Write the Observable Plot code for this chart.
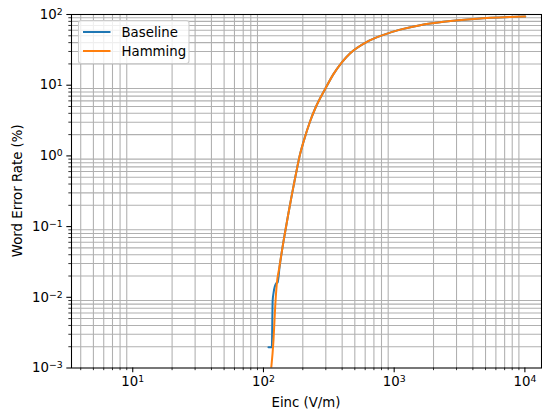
<!DOCTYPE html>
<html>
<head>
<meta charset="utf-8">
<script src="https://cdn.jsdelivr.net/npm/d3@7"></script>
<script src="https://cdn.jsdelivr.net/npm/@observablehq/plot@0.6"></script>
<style>
  html, body { margin: 0; padding: 0; background: white; }
  #chart { width: 542px; height: 416px; }
</style>
</head>
<body>
<div id="chart"></div>
<script>
// ---- data ----
const baselineX = [109.2, 115.9, 117.6, 119.7, 125.1, 128.4, 133.0, 138.3, 144.0, 155.4, 165.0, 174.8, 190.9, 202.3, 227.2, 248.7, 296.6, 343.2, 398, 460.8, 618.1, 828.1, 1111, 1581, 2384, 4293, 7717, 10053];
const baselineY = [0.00197, 0.00197, 0.0090, 0.0118, 0.0157, 0.0162, 0.0273, 0.0447, 0.0702, 0.1557, 0.2836, 0.49, 1.071, 1.573, 3.067, 4.68, 8.84, 14.35, 21.08, 28.35, 41.1, 51.6, 61.1, 70.6, 78.9, 87.2, 91.9, 93.4];
const hammingX = [114.5, 119.3, 122.9, 126.6, 131.9, 138.3, 144.0, 155.4, 165.0, 174.8, 190.9, 202.3, 227.2, 248.7, 296.6, 343.2, 398, 460.8, 618.1, 828.1, 1111, 1581, 2384, 4293, 7717, 10053];
const hammingY = [0.00097, 0.00245, 0.00724, 0.01567, 0.0257, 0.0447, 0.0702, 0.1557, 0.2836, 0.49, 1.071, 1.573, 3.067, 4.68, 8.84, 14.35, 21.08, 28.35, 41.1, 51.6, 61.1, 70.6, 78.9, 87.2, 91.9, 93.4];

const seriesNames = ["Baseline", "Hamming"];
const seriesColors = ["#1f77b4", "#ff7f0e"];

const xMajor = [10, 100, 1000, 10000];
const xMajorLabels = ["10^1", "10^2", "10^3", "10^4"];
const xMinor = [4, 5, 6, 7, 8, 9, 20, 30, 40, 50, 60, 70, 80, 90, 200, 300, 400, 500, 600, 700, 800, 900, 2000, 3000, 4000, 5000, 6000, 7000, 8000, 9000];
const yMajor = [0.001, 0.01, 0.1, 1, 10, 100];
const yMajorLabels = ["10^\u22123", "10^\u22122", "10^\u22121", "10^0", "10^1", "10^2"];
const yMinor = [0.002, 0.003, 0.004, 0.005, 0.006, 0.007, 0.008, 0.009,
                0.02, 0.03, 0.04, 0.05, 0.06, 0.07, 0.08, 0.09,
                0.2, 0.3, 0.4, 0.5, 0.6, 0.7, 0.8, 0.9,
                2, 3, 4, 5, 6, 7, 8, 9,
                20, 30, 40, 50, 60, 70, 80, 90];

const xLabel = "Einc (V/m)";
const yLabel = "Word Error Rate (%)";

// ---- build tables ----
const baseline = baselineX.map((x, i) => ({x, y: baselineY[i]}));
const hamming = hammingX.map((x, i) => ({x, y: hammingY[i]}));

const W = 542, H = 416;
const mL = 71, mR = 1, mT = 14, mB = 48.5;
const FS = 13.3;

const svg = Plot.plot({
  width: W, height: H,
  marginLeft: mL, marginRight: mR, marginTop: mT, marginBottom: mB,
  style: {fontFamily: "DejaVu Sans", fontSize: FS + "px", color: "black", background: "white", overflow: "visible"},
  x: {type: "log", domain: [3.4, 13400]},
  y: {type: "log", domain: [1e-3, 1e2]},
  marks: [
    Plot.gridX(xMinor, {stroke: "#b0b0b0", strokeOpacity: 1, strokeWidth: 1.07}),
    Plot.gridY(yMinor, {stroke: "#b0b0b0", strokeOpacity: 1, strokeWidth: 1.07}),
    Plot.line(baseline, {x: "x", y: "y", stroke: seriesColors[0], strokeWidth: 2, curve: "monotone-x", clip: true}),
    Plot.line(hamming, {x: "x", y: "y", stroke: seriesColors[1], strokeWidth: 2, curve: "monotone-x", clip: true}),
    Plot.frame({stroke: "black", strokeWidth: 1.07}),
    Plot.axisX({ticks: xMinor, tickSize: 2.67, tickFormat: () => "", label: null, strokeWidth: 0.8}),
    Plot.axisY({ticks: yMinor, tickSize: 2.67, tickFormat: () => "", label: null, strokeWidth: 0.8}),
    Plot.axisX({ticks: xMajor, tickSize: 4.67, tickPadding: 4.2, label: null, strokeWidth: 1.07,
      tickFormat: d => xMajorLabels[xMajor.indexOf(d)]}),
    Plot.axisY({ticks: yMajor, tickSize: 4.67, tickPadding: 4.2, label: null, strokeWidth: 1.07,
      tickFormat: d => yMajorLabels[yMajor.indexOf(d)]})
  ]
});

const ns = "http://www.w3.org/2000/svg";
// superscript exponents in tick labels
svg.querySelectorAll("text").forEach(t => {
  const m = /^10\^(.+)$/.exec(t.textContent);
  if (m) {
    t.textContent = "10";
    const ts = document.createElementNS(ns, "tspan");
    ts.setAttribute("dy", "-0.42em");
    ts.setAttribute("font-size", "0.7em");
    ts.textContent = m[1];
    t.appendChild(ts);
  }
});

const s = d3.select(svg);
// axis labels
s.append("text").attr("x", (mL + W - mR) / 2).attr("y", 407)
  .attr("text-anchor", "middle").attr("font-size", FS).attr("fill", "black").text(xLabel);
s.append("text").attr("transform", `translate(22,${(mT + H - mB) / 2}) rotate(-90)`)
  .attr("text-anchor", "middle").attr("font-size", FS).attr("fill", "black").text(yLabel);

// legend
const lg = s.append("g");
lg.append("rect").attr("x", 78.5).attr("y", 20.5).attr("width", 110.5).attr("height", 43)
  .attr("rx", 2.7).attr("fill", "white").attr("fill-opacity", 0.8)
  .attr("stroke", "#cccccc").attr("stroke-width", 1.07);
seriesNames.forEach((name, i) => {
  const yy = 32 + i * 19;
  lg.append("line").attr("x1", 83).attr("x2", 110.5).attr("y1", yy).attr("y2", yy)
    .attr("stroke", seriesColors[i]).attr("stroke-width", 2);
  lg.append("text").attr("x", 121.5).attr("y", yy).attr("dy", "0.36em")
    .attr("text-anchor", "start")
    .attr("font-size", FS).attr("fill", "black").text(name);
});

document.getElementById("chart").appendChild(svg);
</script>
</body>
</html>
